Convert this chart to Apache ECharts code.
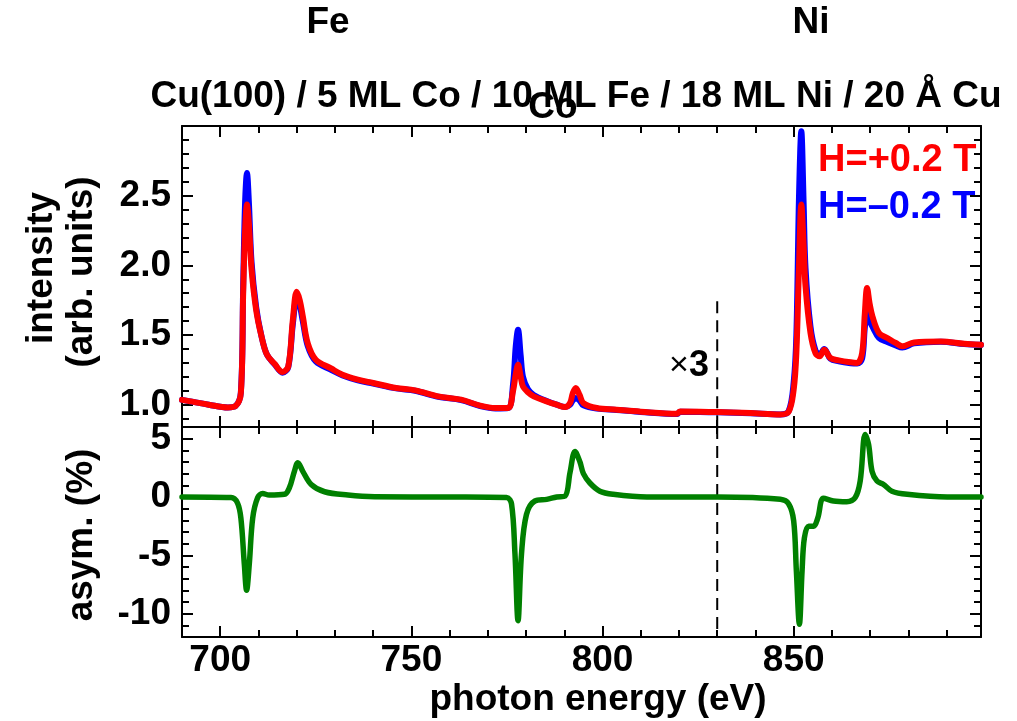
<!DOCTYPE html>
<html><head><meta charset="utf-8">
<script src="https://cdn.jsdelivr.net/npm/echarts@6/dist/echarts.min.js"></script>
<style>html,body{margin:0;padding:0;background:#fff}#c{width:1017px;height:721px}</style>
</head><body><div id="c"></div>
<script>
// ---- data ----
const energy = [690,693,697,702,704,705.4,706,706.5,707,707.5,708.2,709.4,710.8,712.2,714.2,716.3,717.8,719,720,720.8,721.6,722.9,725,729,732,736,740,746,751,757,763,768,772,775.3,776.6,777.3,777.9,778.6,779.2,780.5,782,785.4,788,790.2,791.5,792.2,793,794,795,798.5,803.7,810,819.5,820.3,830,838.7,846.5,848.7,850,850.7,851.4,852,852.6,853.1,854.4,855.7,856.8,858,859.6,861.8,864.9,866.6,867.9,868.6,869.2,869.9,870.6,872.3,874.5,876.7,878.4,881.5,888.5,894.6,899];
const intensityPlus = [1.035,1.02,1.0,0.98,0.99,1.085,1.80,2.25,2.436,2.30,1.97,1.68,1.49,1.36,1.294,1.235,1.275,1.61,1.81,1.75,1.634,1.44,1.323,1.26,1.215,1.18,1.156,1.12,1.103,1.06,1.036,0.993,0.976,0.976,1.10,1.22,1.287,1.20,1.13,1.09,1.06,1.024,1.0,0.983,1.012,1.08,1.12,1.07,1.012,0.976,0.964,0.95,0.935,0.952,0.947,0.94,0.93,0.95,1.108,1.37,2.0,2.436,2.15,1.85,1.515,1.37,1.347,1.395,1.335,1.318,1.304,1.30,1.37,1.65,1.838,1.72,1.634,1.515,1.479,1.443,1.419,1.447,1.454,1.438,1.43];
const intensityMinus = [1.035,1.02,1.0,0.98,0.99,1.09,1.85,2.45,2.663,2.45,2.02,1.70,1.49,1.36,1.29,1.23,1.27,1.58,1.76,1.71,1.60,1.42,1.31,1.25,1.21,1.175,1.152,1.117,1.10,1.057,1.033,0.99,0.973,0.976,1.15,1.42,1.538,1.35,1.20,1.11,1.07,1.026,1.0,0.983,1.0,1.03,1.048,1.03,0.995,0.972,0.962,0.948,0.933,0.95,0.945,0.938,0.93,0.955,1.16,1.50,2.50,2.962,2.45,1.98,1.56,1.39,1.36,1.40,1.33,1.312,1.298,1.295,1.33,1.55,1.658,1.60,1.56,1.48,1.45,1.425,1.41,1.44,1.452,1.436,1.43];
const asymEnergy = [690,702.8,704.5,705.4,706.3,706.9,707.6,708.5,709.8,711.1,712.8,716.8,718.1,719.4,720.3,721.6,723.8,727.3,733.4,740.4,760,774.9,776.2,777.1,777.9,778.8,780.1,782.3,785.4,788,790.2,791.5,792.8,794.1,795,796.7,799.3,802.8,811.6,830,846.5,848.7,850,850.7,851.5,852.2,852.8,853.9,855.2,856.3,857.8,860.4,863.9,866.1,867.4,868.7,869.6,870.5,871.8,873.5,875.7,879.7,890.2,899];
const asymmetry = [0,-0.05,-0.5,-1.8,-5.75,-8.0,-5.75,-1.8,-0.05,0.3,0.17,0.23,0.8,2.2,2.93,2.2,1.08,0.45,0.17,0.03,0,-0.05,-0.6,-4.9,-10.6,-4.9,-1.5,-0.34,-0.2,0,0.08,2.1,3.9,3.0,2.0,1.2,0.5,0.23,0,0,-0.2,-0.6,-2.05,-6.3,-10.9,-6.3,-3.5,-2.5,-2.5,-1.8,-0.1,-0.34,-0.4,-0.05,1.37,5.36,4.5,2.2,1.37,1.08,0.5,0.23,0,0];
const markerEnergy = [830, 830];
const markerTop = [1.742, 0.84];
const markerBottom = [6, -12];
// ---- ticks ----
const xMajorTicks = [700,750,800,850];
const xMinorTicks = [690,700,710,720,730,740,750,760,770,780,790,800,810,820,830,840,850,860,870,880,890];
const yTopMajor = [1.0,1.5,2.0,2.5];
const yTopMinor = [0.9,1.0,1.1,1.2,1.3,1.4,1.5,1.6,1.7,1.8,1.9,2.0,2.1,2.2,2.3,2.4,2.5,2.6,2.7,2.8,2.9];
const yBotMajor = [-10,-5,0,5];
const yBotMinor = [-11,-10,-9,-8,-7,-6,-5,-4,-3,-2,-1,0,1,2,3,4,5];

const FONT = "'Liberation Sans', Arial, sans-serif";
const lbl = {fontFamily: FONT, fontWeight: 'bold', fontSize: 37, color: '#000'};
const line = {color: '#000', width: 2};

function mkAxis(kind, g, pos, ticks, len, showLine, labels, range, fmt) {
  const a = {
    type: 'value', gridIndex: g, position: pos, min: range[0], max: range[1],
    splitLine: {show: false},
    axisLine: {show: showLine, onZero: false, lineStyle: line},
    axisTick: {show: true, inside: true, length: len, lineStyle: line, customValues: ticks},
    axisLabel: {show: !!labels}
  };
  if (labels) {
    a.axisLabel = Object.assign({show: true, customValues: labels, margin: kind === 'x' ? 5 : 11,
      formatter: fmt}, lbl);
  }
  return a;
}
const xAxes = [], yAxes = [];
[0,1].forEach(g => {
  ['bottom','top'].forEach(pos => {
    xAxes.push(mkAxis('x', g, pos, xMinorTicks, 7, true, null, [690, 899]));
    xAxes.push(mkAxis('x', g, pos, xMajorTicks, 11, false,
      (g === 1 && pos === 'bottom') ? xMajorTicks : null, [690, 899], v => String(v)));
  });
  const yr = g === 0 ? [0.84, 3.0] : [-12, 6];
  const mi = g === 0 ? yTopMinor : yBotMinor;
  const ma = g === 0 ? yTopMajor : yBotMajor;
  const f = g === 0 ? (v => v.toFixed(1)) : (v => String(v));
  ['left','right'].forEach(pos => {
    yAxes.push(mkAxis('y', g, pos, mi, 7, true, null, yr));
    yAxes.push(mkAxis('y', g, pos, ma, 11, false, pos === 'left' ? ma : null, yr, f));
  });
});

const pairs = (xs, ys) => xs.map((x, i) => [x, ys[i]]);

function txt(text, x, y, opts) {
  return Object.assign({type: 'text', x: x, y: y, silent: true,
    style: Object.assign({text: text, fill: '#000', font: 'bold 37px ' + FONT,
      align: 'center', verticalAlign: 'middle'}, opts && opts.style)}, opts && opts.el);
}

const chart = echarts.init(document.getElementById('c'), null, {renderer: 'canvas'});
chart.setOption({
  animation: false,
  backgroundColor: '#fff',
  grid: [
    {left: 182, top: 126, width: 799, height: 301, containLabel: false},
    {left: 182, top: 427, width: 799, height: 210, containLabel: false}
  ],
  xAxis: xAxes,
  yAxis: yAxes,
  series: [
    {type: 'line', xAxisIndex: 0, yAxisIndex: 0, data: pairs(energy, intensityMinus), showSymbol: false,
      smooth: 0.35, lineStyle: {color: '#0000ff', width: 6, join: 'round', cap: 'round'}, z: 3},
    {type: 'line', xAxisIndex: 0, yAxisIndex: 0, data: pairs(energy, intensityPlus), showSymbol: false,
      smooth: 0.35, lineStyle: {color: '#ff0000', width: 6, join: 'round', cap: 'round'}, z: 4},
    {type: 'line', xAxisIndex: 0, yAxisIndex: 0, data: pairs(markerEnergy, markerTop), showSymbol: false,
      lineStyle: {color: '#000', width: 2, type: [12, 7]}, z: 2},
    {type: 'line', xAxisIndex: 4, yAxisIndex: 4, data: pairs(markerEnergy, markerBottom), showSymbol: false,
      lineStyle: {color: '#000', width: 2, type: [12, 7]}, z: 2},
    {type: 'line', xAxisIndex: 4, yAxisIndex: 4, data: pairs(asymEnergy, asymmetry), showSymbol: false,
      smooth: 0.35, lineStyle: {color: '#008000', width: 5.5, join: 'round', cap: 'round'}, z: 3}
  ],
  graphic: [
    txt('Fe', 328, 23),
    txt('Ni', 811, 23),
    txt('Cu(100) / 5 ML Co / 10 ML Fe / 18 ML Ni / 20 Å Cu', 576, 97, {style: {font: 'bold 37px ' + FONT}}),
    txt('Co', 553, 108),
    txt('intensity', 42, 268, {el: {rotation: Math.PI / 2}}),
    txt('(arb. units)', 82, 272, {el: {rotation: Math.PI / 2}}),
    txt('asym. (%)', 82, 535, {el: {rotation: Math.PI / 2}}),
    txt('photon energy (eV)', 598, 700),
    txt('H=+0.2 T', 818, 161, {style: {fill: '#ff0000', align: 'left', font: 'bold 38px ' + FONT}}),
    txt('H=\u20130.2 T', 818, 208, {style: {fill: '#0000ff', align: 'left', font: 'bold 38px ' + FONT}}),
    {type: 'text', x: 709, y: 366, silent: true, style: {
      text: '{a|\u00d7}{b|3}', align: 'right', verticalAlign: 'middle',
      rich: {a: {font: 'normal 34px ' + FONT, fill: '#000'}, b: {font: 'bold 36px ' + FONT, fill: '#000'}}}}
  ]
});
</script></body></html>
